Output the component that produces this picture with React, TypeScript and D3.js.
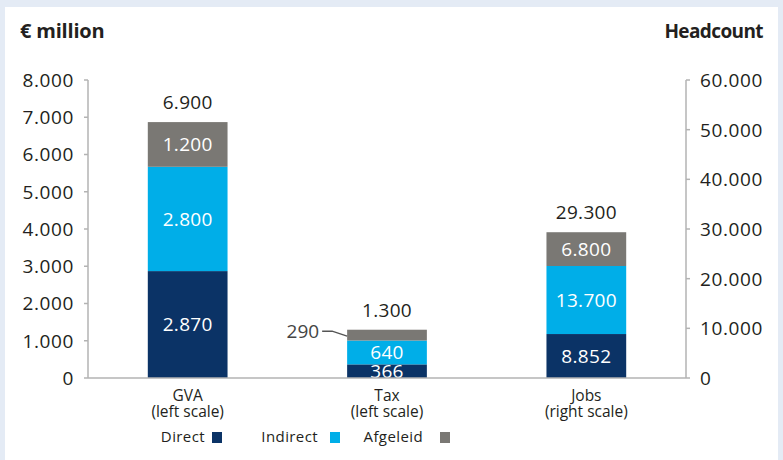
import React from 'react';
import * as d3 from 'd3';

const categories = ['GVA', 'Tax', 'Jobs'];
const categoryNotes = ['(left scale)', '(left scale)', '(right scale)'];
const axisSide = ['left', 'left', 'right'];
const direct = [2870, 366, 8852];
const indirect = [2800, 640, 13700];
const afgeleid = [1200, 290, 6800];
const totals = [6900, 1300, 29300];
const leftTicks = [0, 1000, 2000, 3000, 4000, 5000, 6000, 7000, 8000];
const rightTicks = [0, 10000, 20000, 30000, 40000, 50000, 60000];
const seriesKeys = ['direct', 'indirect', 'afgeleid'];
const seriesNames = ['Direct', 'Indirect', 'Afgeleid'];

const colors: Record<string, string> = {
	direct: '#0b3366',
	indirect: '#00aee8',
	afgeleid: '#7a7874',
};

const W = 783;
const H = 460;
const margin = { top: 80, right: 97, bottom: 82, left: 88 };
const font = '"Open Sans", sans-serif';
const textColor = '#231f20';
const axisColor = '#b3b3b3';

const nl = d3.formatLocale({ decimal: ',', thousands: '.', grouping: [3], currency: ['€', ''] });
const fmt = nl.format(',d');

export default function App() {
	const x0 = margin.left;
	const x1 = W - margin.right;
	const yBase = H - margin.bottom;

	const x = d3.scaleBand().domain(categories).range([x0, x1]).paddingInner(0.6).paddingOuter(0.3);
	const yLeft = d3.scaleLinear().domain([0, 8000]).range([yBase, margin.top]);
	const yRight = d3.scaleLinear().domain([0, 60000]).range([yBase, margin.top]);

	const rows = categories.map((c, i) => ({
		cat: c,
		direct: direct[i],
		indirect: indirect[i],
		afgeleid: afgeleid[i],
	}));
	const stacked = d3.stack<any>().keys(seriesKeys)(rows);

	const scaleFor = (i: number) => (axisSide[i] === 'right' ? yRight : yLeft);
	const bw = x.bandwidth();

	// legend: where each label ends and where its swatch starts
	const legendTextEnd = [205, 318, 423];
	const legendSwatch = [212, 330, 440];

	return (
		<svg width={W} height={H} style={{ position: 'absolute', left: 0, top: 0 }} fontFamily={font}>
			<rect x={0} y={0} width={W} height={H} fill="#e4ebf5" />
			<rect x={5} y={7} width={773} height={H - 7} fill="#ffffff" />

			{/* titles */}
			<text x={20} y={38} fontSize={20} fontWeight="bold" fill={textColor} letterSpacing={-0.2}>€ million</text>
			<text x={763} y={38} fontSize={19} fontWeight="bold" fill={textColor} textAnchor="end" letterSpacing={-0.6}>Headcount</text>

			{/* left axis */}
			<line x1={x0} x2={x0} y1={yLeft(8000)} y2={yBase} stroke={axisColor} strokeWidth={1.5} />
			{leftTicks.map(t => (
				<g key={'l' + t}>
					<line x1={x0 - 4} x2={x0} y1={yLeft(t)} y2={yLeft(t)} stroke={axisColor} strokeWidth={1.5} />
					<text x={x0 - 14} y={yLeft(t)} dy="0.36em" textAnchor="end" fontSize={19} letterSpacing={0.6} fill={textColor}>{fmt(t)}</text>
				</g>
			))}

			{/* right axis */}
			<line x1={x1} x2={x1} y1={yRight(60000)} y2={yBase} stroke={axisColor} strokeWidth={1.5} />
			{rightTicks.map(t => (
				<g key={'r' + t}>
					<line x1={x1} x2={x1 + 4} y1={yRight(t)} y2={yRight(t)} stroke={axisColor} strokeWidth={1.5} />
					<text x={x1 + 14} y={yRight(t)} dy="0.36em" textAnchor="start" fontSize={19} letterSpacing={0.6} fill={textColor}>{fmt(t)}</text>
				</g>
			))}

			{/* bars */}
			{stacked.map(layer => (
				<g key={layer.key} fill={colors[layer.key]}>
					{layer.map((d, i) => {
						const y = scaleFor(i);
						return <rect key={i} x={x(categories[i])} y={y(d[1])} width={bw} height={y(d[0]) - y(d[1])} />;
					})}
				</g>
			))}

			{/* segment labels */}
			{stacked.map(layer => (
				<g key={'lab' + layer.key}>
					{layer.map((d, i) => {
						const y = scaleFor(i);
						const v = d[1] - d[0];
						const mid = (y(d[0]) + y(d[1])) / 2;
						const left = x(categories[i]) as number;
						if (y(d[0]) - y(d[1]) < 14 && layer.key === 'afgeleid') {
							return (
								<g key={i}>
									<path d={`M${left - 25},${mid - 4} L${left - 15},${mid - 4} L${left},${mid + 1}`} fill="none" stroke="#555" strokeWidth={1.5} />
									<text x={left - 28} y={mid - 4} dy="0.36em" textAnchor="end" fontSize={19} fill="#444">{fmt(v)}</text>
								</g>
							);
						}
						return (
							<text key={i} x={left + bw / 2} y={mid} dy="0.36em" textAnchor="middle" fontSize={19} letterSpacing={0.3} fill="#ffffff">{fmt(v)}</text>
						);
					})}
				</g>
			))}

			{/* baseline */}
			<line x1={x0} x2={x1} y1={yBase} y2={yBase} stroke={axisColor} strokeWidth={1.5} />

			{/* totals */}
			{categories.map((c, i) => {
				const y = scaleFor(i);
				const top = stacked[stacked.length - 1][i][1];
				return (
					<text key={'t' + c} x={(x(c) as number) + bw / 2} y={y(top) - 13} textAnchor="middle" fontSize={19} letterSpacing={0.3} fill={textColor}>{fmt(totals[i])}</text>
				);
			})}

			{/* category labels */}
			{categories.map((c, i) => (
				<text key={'c' + c} textAnchor="middle" fontSize={15.5} fill={textColor}>
					<tspan x={(x(c) as number) + bw / 2} y={yBase + 23}>{c}</tspan>
					<tspan x={(x(c) as number) + bw / 2} y={yBase + 38.5}>{categoryNotes[i]}</tspan>
				</text>
			))}

			{/* legend */}
			{seriesKeys.map((k, i) => (
				<g key={'lg' + k}>
					<text x={legendTextEnd[i]} y={437} dy="0.36em" textAnchor="end" fontSize={15} letterSpacing={0.4} fill={textColor}>{seriesNames[i]}</text>
					<rect x={legendSwatch[i]} y={432} width={10} height={11} fill={colors[k]} />
				</g>
			))}
		</svg>
	);
}
